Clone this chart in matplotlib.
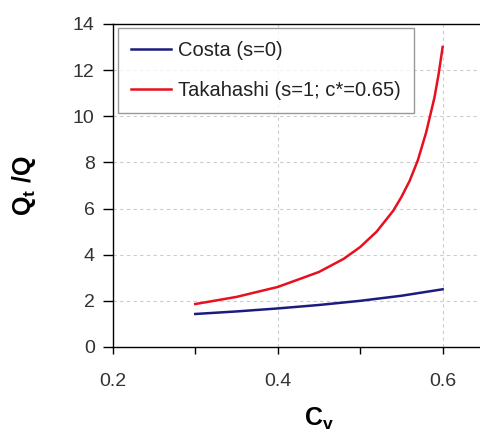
import matplotlib.pyplot as plt

# данные
cv_costa = [0.30, 0.35, 0.40, 0.45, 0.50, 0.55, 0.60]
q_costa = [1.43, 1.54, 1.67, 1.82, 2.00, 2.22, 2.50]

cv_taka = [0.30, 0.35, 0.40, 0.45, 0.48, 0.50, 0.52, 0.54, 0.55, 0.56,
           0.57, 0.58, 0.59, 0.595, 0.60]
q_taka = [1.86, 2.17, 2.60, 3.25, 3.82, 4.33, 5.00, 5.90, 6.50, 7.20,
          8.10, 9.30, 10.80, 11.80, 13.00]

x_labels = ['0.2', '', '0.4', '', '0.6']
y_ticks = [0, 2, 4, 6, 8, 10, 12, 14]

plt.rcParams['font.family'] = ['Liberation Sans', 'DejaVu Sans']

fig = plt.figure(figsize=(4.8, 4.34), dpi=100)
ax = fig.add_axes([0.235, 0.2005, 0.859, 0.7445])

ax.plot(cv_costa, q_costa, color='#1c1c80', lw=1.8, label='Costa (s=0)')
ax.plot(cv_taka, q_taka, color='#e8101e', lw=1.8, label='Takahashi (s=1; c*=0.65)')

ax.set_xlim(0.2, 0.7)
ax.set_ylim(0, 14)
ax.set_xticks([0.2, 0.3, 0.4, 0.5, 0.6])
ax.set_xticklabels(x_labels)
ax.set_yticks(y_ticks)

# сетка только по подписанным делениям
for v in [0.4, 0.6]:
    ax.axvline(v, color='#cccccc', lw=0.8, ls=(0, (3, 3)), zorder=0)
for v in y_ticks[1:-1]:
    ax.axhline(v, color='#cccccc', lw=0.8, ls=(0, (3, 3)), zorder=0)

ax.spines['right'].set_visible(False)
for s in ['left', 'bottom', 'top']:
    ax.spines[s].set_linewidth(1.0)

ax.tick_params(axis='x', direction='out', length=5, width=1, pad=14,
               labelsize=14, labelcolor='#333333')
ax.tick_params(axis='y', direction='out', length=7, width=1, pad=6,
               labelsize=14, labelcolor='#333333')

ax.set_ylabel('Q$_\\mathregular{t}$ /Q', fontsize=18, fontweight='bold', labelpad=25)
ax.set_xlabel('C$_\\mathregular{v}$', fontsize=18, fontweight='bold', labelpad=11)

leg = ax.legend(loc='upper left', bbox_to_anchor=(0.012, 0.988), fontsize=14.5,
                frameon=True, fancybox=False, edgecolor='#808080',
                borderaxespad=0, handlelength=2.0, borderpad=0.65,
                labelspacing=1.05, handletextpad=0.35)
leg.get_frame().set_linewidth(1.0)
for t in leg.get_texts():
    t.set_color('#222222')

fig.savefig('out.png', dpi=100)
